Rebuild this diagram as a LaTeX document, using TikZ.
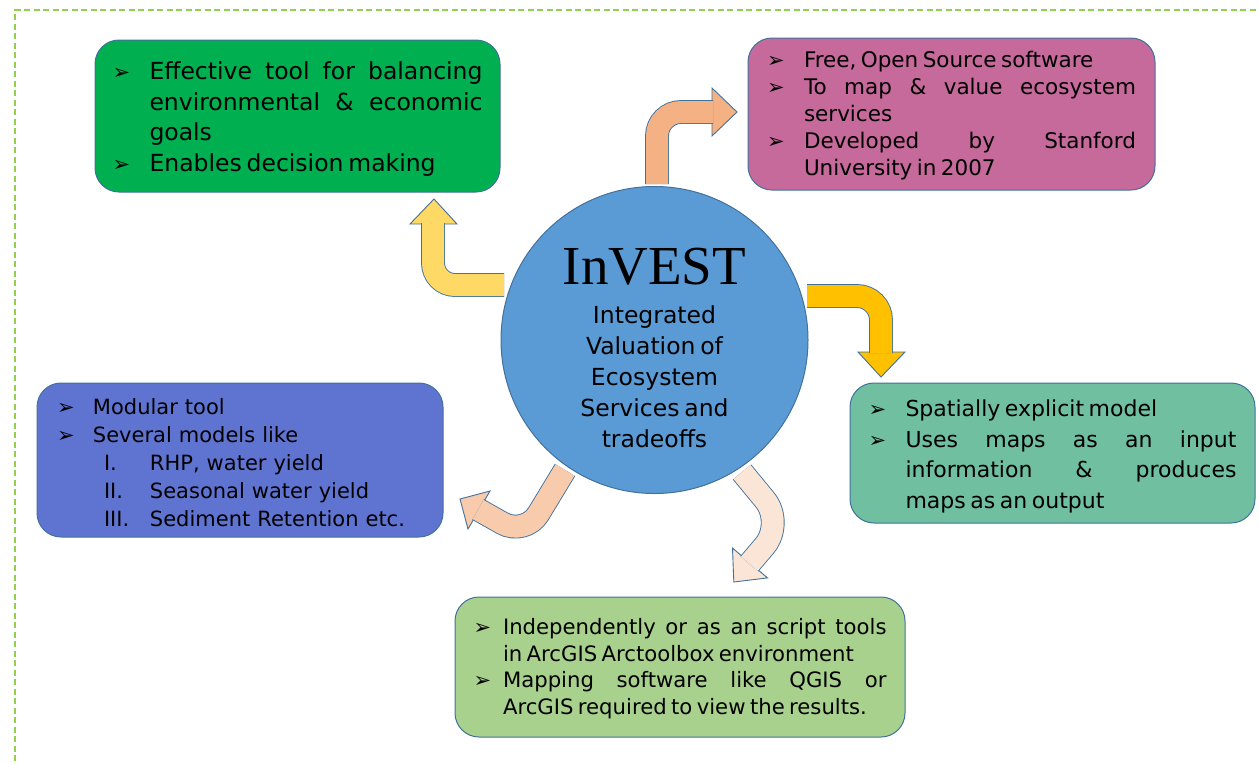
\documentclass[tikz,border=0pt]{standalone}
\usepackage{fontspec}
\setmainfont{DejaVu Sans}[WordSpace=0.65]
\newfontfamily\symfont{DejaVu Sans}
\newfontfamily\titlefont{Liberation Serif}
\usetikzlibrary{calc}

\definecolor{cFrame}{HTML}{92D050}
\definecolor{cEdge}{HTML}{41719C}
\definecolor{cGreen}{HTML}{00B050}
\definecolor{cPink}{HTML}{C6699B}
\definecolor{cTeal}{HTML}{6FBFA0}
\definecolor{cViolet}{HTML}{5F74D0}
\definecolor{cLime}{HTML}{A9D18E}
\definecolor{cCircle}{HTML}{5B9BD5}
\definecolor{aYellow}{HTML}{FFD966}
\definecolor{aOrange}{HTML}{F4B183}
\definecolor{aGold}{HTML}{FFC000}
\definecolor{aCream}{HTML}{FBE5D6}
\definecolor{aPeach}{HTML}{F8CBAD}

% bullet glyph and list items
\newcommand\arrowbullet{{\symfont\fontsize{21}{21}\selectfont ➢}}
\newcommand\itm[1]{\par\noindent\hangindent=#1\hangafter=1\makebox[#1][l]{\arrowbullet}\ignorespaces}
\newcommand\subitm[1]{\par\noindent\hspace*{47pt}\makebox[46pt][l]{#1}\ignorespaces}
% closes the last item and lifts the block a little inside its box
\newcommand\listend{\par\kern7pt}

\tikzset{
  infobox/.style={rectangle, rounded corners=24pt, draw=cEdge, line width=1pt,
    inner sep=0pt, align=justify, text=black},
  arrshaft/.style={draw=cEdge, line width=0.9pt, double=#1, double distance=22pt},
  arrhead/.style={fill=#1, draw=cEdge, line width=0.9pt, line join=miter},
}

\begin{document}
\begin{tikzpicture}[x=1pt, y=-1pt]
\useasboundingbox (0,0) rectangle (1259,764);
\hyphenpenalty=10000 \exhyphenpenalty=10000 \tolerance=10000

% dashed frame
\draw[cFrame, line width=1.6pt, dash pattern=on 6pt off 3.5pt] (15,780) -- (15,10) -- (1280,10);

% ---- bent arrows (drawn below the central circle)
% yellow: to the green box
\coordinate (y0) at (504,285); \coordinate (y1) at (433,285); \coordinate (y2) at (433,223);
\coordinate (yh1) at (410,224); \coordinate (yt) at (434,199); \coordinate (yh2) at (457,224);
\path[arrhead=aYellow] (yh1) -- (yt) -- (yh2) -- cycle;
\draw[arrshaft=aYellow, rounded corners=22pt] (y0) -- (y1) -- (y2);

% orange: to the pink box
\coordinate (o0) at (657,184); \coordinate (o1) at (657,112); \coordinate (o2) at (713,112);
\coordinate (oh1) at (712,88); \coordinate (ot) at (737,112); \coordinate (oh2) at (712,136);
\path[arrhead=aOrange] (oh1) -- (ot) -- (oh2) -- cycle;
\draw[arrshaft=aOrange, rounded corners=24pt] (o0) -- (o1) -- (o2);

% gold: to the teal box
\coordinate (g0) at (807,296); \coordinate (g1) at (881,296); \coordinate (g2) at (881,353);
\coordinate (gh1) at (858,352); \coordinate (gt) at (881,377); \coordinate (gh2) at (905,352);
\path[arrhead=aGold] (gh1) -- (gt) -- (gh2) -- cycle;
\draw[arrshaft=aGold, rounded corners=24pt] (g0) -- (g1) -- (g2);

% cream: to the lime box
\coordinate (c0) at (742,472); \coordinate (c1) at (784,523); \coordinate (c2) at (749.4,563.8);
\coordinate (ch1) at (732.5,548.1); \coordinate (ct) at (733.8,582); \coordinate (ch2) at (767.5,577.9);
\path[arrhead=aCream] (ch1) -- (ct) -- (ch2) -- cycle;
\draw[arrshaft=aCream, rounded corners=30pt] (c0) -- (c1) -- (c2);

% peach: to the violet box
\coordinate (p0) at (565,470); \coordinate (p1) at (525,536); \coordinate (p2) at (478.1,509.5);
\coordinate (ph1) at (490,491); \coordinate (pt) at (460,499); \coordinate (ph2) at (468,529);
\path[arrhead=aPeach] (ph1) -- (pt) -- (ph2) -- cycle;
\draw[arrshaft=aPeach, rounded corners=26pt] (p0) -- (p1) -- (p2);

% ---- central circle
\node[circle, minimum size=307pt, inner sep=0pt, fill=cCircle, draw=cEdge, line width=1pt] (invest) at (654.5,340) {};
\node[font=\titlefont\fontsize{55}{60}\selectfont, inner sep=0pt] (title) at ($(invest.center)+(0,-73.5)$) {InVEST};
\node[font=\fontsize{23.5}{31}\selectfont, align=center, inner sep=0pt] (subtitle) at ($(invest.center)+(0,37)$)
  {Integrated\\Valuation of\\Ecosystem\\Services and\\tradeoffs};

% ---- information boxes
\node[infobox, fill=cGreen, minimum width=405pt, minimum height=152pt, text width=370pt,
  font=\fontsize{23.5}{30.5}\selectfont] (goals) at (297.5,116)
  {\itm{37pt}Effective tool for balancing\linebreak environmental \& economic\linebreak goals
   \itm{37pt}Enables decision making\listend};

\node[infobox, fill=cPink, minimum width=407pt, minimum height=152pt, text width=369pt,
  font=\fontsize{21.5}{27}\selectfont] (about) at (951.5,114)
  {\itm{37pt}Free, Open Source software
   \itm{37pt}To map \& value ecosystem\linebreak services
   \itm{37pt}Developed by Stanford\linebreak University in 2007\listend};

\node[infobox, fill=cTeal, minimum width=405pt, minimum height=140pt, text width=368pt,
  font=\fontsize{22}{30.5}\selectfont] (spatial) at (1052.5,453)
  {\itm{37pt}Spatially explicit model
   \itm{37pt}Uses maps as an input\linebreak information \& produces\linebreak maps as an output\listend};

\node[infobox, fill=cViolet, minimum width=406pt, minimum height=154pt, text width=366pt,
  font=\fontsize{21}{28}\selectfont, align=left] (models) at (240,460)
  {\itm{36pt}Modular tool
   \itm{36pt}Several models like
   \subitm{I.}RHP, water yield
   \subitm{II.}Seasonal water yield
   \subitm{III.}Sediment Retention etc.\listend};

\node[infobox, fill=cLime, minimum width=450pt, minimum height=140pt, text width=413pt,
  font=\fontsize{21.2}{26.5}\selectfont] (arcgis) at (680,667)
  {\itm{29.5pt}Independently or as an script tools\linebreak in ArcGIS Arctoolbox environment
   \itm{29.5pt}Mapping software like QGIS or\linebreak ArcGIS required to view the results.\listend};
\end{tikzpicture}
\end{document}
